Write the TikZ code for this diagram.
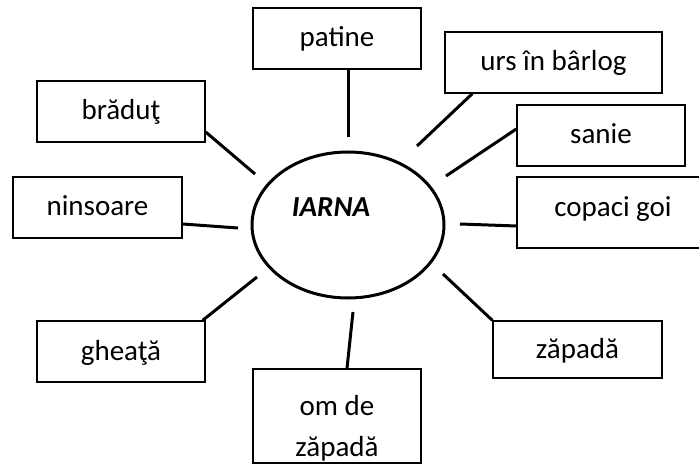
\documentclass[tikz,border=0pt]{standalone}
\usepackage{fontspec}
\setmainfont{Carlito}
\usetikzlibrary{shapes.geometric}
\begin{document}
\begin{tikzpicture}[x=1pt,y=-1pt,
  wbox/.style={draw=black,line width=1.4pt,rectangle,inner sep=0pt,
    font=\fontsize{29}{41}\selectfont,text height=21pt,text depth=4pt,align=center},
  conn/.style={line width=3pt,line cap=butt},
  hub/.style={draw=black,line width=3pt,ellipse,inner sep=0pt}]
\clip (0,0) rectangle (699,465);
\fill[white] (0,0) rectangle (699,465);
% hub
\node[hub,minimum width=192pt,minimum height=146pt] (hub) at (348,225) {};
\node[font=\fontsize{29}{35}\selectfont\bfseries\itshape] (iarna) at (331,207) {IARNA};
% boxes
\node[wbox,minimum width=168pt,minimum height=61pt] (patine) at (337,38.5) {patine};
\node[wbox,minimum width=217pt,minimum height=61pt] (urs) at (553.5,62.5) {urs în bârlog};
\node[wbox,minimum width=168pt,minimum height=61pt] (sanie) at (601,135.5) {sanie};
\node[wbox,minimum width=192pt,minimum height=71pt,text depth=12pt] (copaci) at (613,212.5) {copaci goi};
\node[wbox,minimum width=169pt,minimum height=57pt] (zapada) at (577.5,349.5) {zăpadă};
\node[wbox,minimum width=168pt,minimum height=94pt,text height=,text depth=] (om) at (337,416) {\rule{0pt}{45pt}om de\\zăpadă};
\node[wbox,minimum width=168pt,minimum height=61pt] (gheata) at (121,351.5) {gheaţă};
\node[wbox,minimum width=169pt,minimum height=61pt] (ninsoare) at (97.5,207.5) {ninsoare};
\node[wbox,minimum width=168pt,minimum height=61pt] (bradut) at (121,111.5) {brăduţ};
% free ends
\coordinate (cpatine) at (348,137);
\coordinate (curs) at (417,146);
\coordinate (csanie) at (446,176);
\coordinate (ccopaci) at (460,224);
\coordinate (czapada) at (443,274);
\coordinate (com) at (353,312);
\coordinate (cgheata) at (257,277);
\coordinate (cninsoare) at (238,228);
\coordinate (cbradut) at (255,174);
% connectors
\draw[conn] ([xshift=11pt]patine.south) -- (cpatine);
\draw[conn] ([xshift=28pt]urs.south west) -- (curs);
\draw[conn] ([yshift=6.5pt]sanie.west) -- (csanie);
\draw[conn] ([yshift=-13.5pt]copaci.west) -- (ccopaci);
\draw[conn] (zapada.north west) -- (czapada);
\draw[conn] ([xshift=10pt]om.north) -- (com);
\draw[conn] ([xshift=-3pt]gheata.north east) -- (cgheata);
\draw[conn] ([yshift=-16.5pt]ninsoare.east) -- (cninsoare);
\draw[conn] ([yshift=-20.5pt]bradut.east) -- (cbradut);
\end{tikzpicture}
\end{document}
